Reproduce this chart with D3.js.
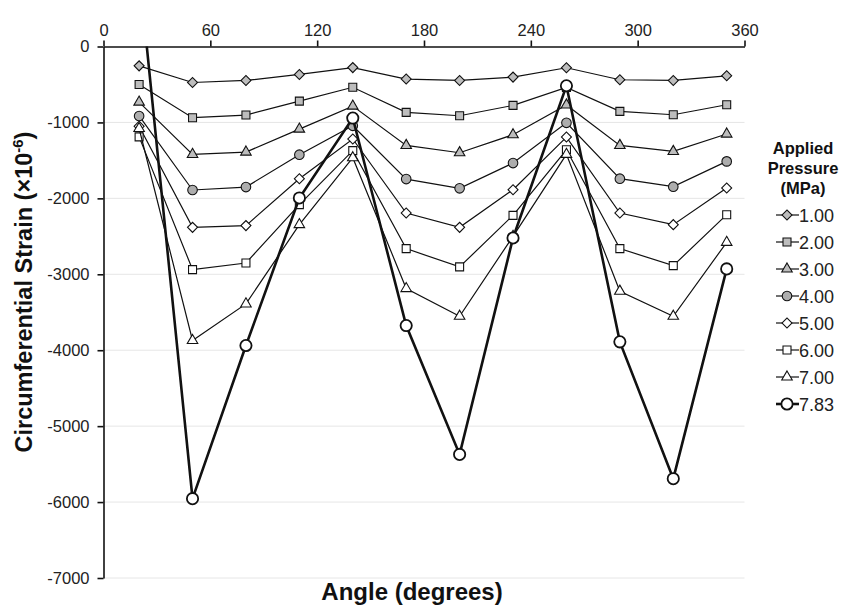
<!DOCTYPE html>
<html>
<head>
<meta charset="utf-8">
<script src="https://cdn.jsdelivr.net/npm/d3@7"></script>
<style>
  html, body { margin: 0; padding: 0; background: #fff; }
  svg { display: block; font-family: "Liberation Sans", Arial, sans-serif; }
</style>
</head>
<body>
<svg id="chart" width="841" height="610"></svg>
<script>
// Measurement angles around the circumference (degrees)
const angles = [20, 50, 80, 110, 140, 170, 200, 230, 260, 290, 320, 350];

// Applied pressure levels (MPa)
const pressures = ["1.00", "2.00", "3.00", "4.00", "5.00", "6.00", "7.00", "7.83"];

// Circumferential strain (×10^-6) at each angle, one array per pressure
const strain100 = [-255, -474, -447, -368, -278, -429, -447, -403, -280, -438, -447, -386];
const strain200 = [-500, -938, -903, -719, -537, -868, -912, -776, -540, -855, -899, -767];
const strain300 = [-732, -1421, -1390, -1088, -785, -1303, -1399, -1162, -770, -1303, -1382, -1153];
const strain400 = [-915, -1890, -1851, -1425, -1045, -1746, -1868, -1535, -1005, -1741, -1846, -1513];
const strain500 = [-1050, -2382, -2359, -1741, -1218, -2193, -2382, -1886, -1193, -2193, -2346, -1864];
const strain600 = [-1190, -2938, -2851, -2083, -1372, -2662, -2903, -2224, -1360, -2662, -2886, -2215];
const strain700 = [-1080, -3872, -3390, -2346, -1465, -3188, -3553, -2500, -1420, -3223, -3553, -2579];
const strain783 = [1000, -5955, -3938, -1995, -942, -3675, -5372, -2522, -517, -3890, -5692, -2929];

// Axis ticks
const xTicks = [0, 60, 120, 180, 240, 300, 360];
const yTicks = [0, -1000, -2000, -3000, -4000, -5000, -6000, -7000];

const seriesValues = [strain100, strain200, strain300, strain400, strain500, strain600, strain700, strain783];
const markerShapes = ["diamond", "square", "triangle", "circle", "diamond", "square", "triangle", "circle"];
const markerFills = ["#bdbdbd", "#bdbdbd", "#bdbdbd", "#adadad", "#fff", "#fff", "#fff", "#fff"];

const series = pressures.map((p, i) => ({
  name: p,
  shape: markerShapes[i],
  fill: markerFills[i],
  heavy: i === pressures.length - 1,
  points: angles.map((a, j) => ({ angle: a, value: seriesValues[i][j] }))
}));

const svg = d3.select("#chart");
const x = d3.scaleLinear().domain([0, 360]).range([103.5, 744.5]);
const y = d3.scaleLinear().domain([-7000, 0]).range([578, 46.5]);

// Light horizontal gridlines
svg.append("g")
  .selectAll("line")
  .data(yTicks.filter(t => t !== 0))
  .join("line")
  .attr("x1", x(0)).attr("x2", x(360))
  .attr("y1", d => y(d)).attr("y2", d => y(d))
  .attr("stroke", "#e6e6e6").attr("stroke-width", 1);

// Top x axis
const xAxis = svg.append("g")
  .attr("transform", `translate(0,${y(0)})`)
  .call(d3.axisTop(x).tickValues(xTicks).tickSize(6).tickSizeOuter(0).tickPadding(5)
    .tickFormat(d => String(d)));
xAxis.select(".domain").attr("stroke", "#111").attr("stroke-width", 1.6);
xAxis.selectAll(".tick line").attr("stroke", "#111").attr("stroke-width", 1.6);
xAxis.selectAll(".tick text").attr("font-size", 16.5).attr("fill", "#222")
  .attr("font-family", '"Liberation Sans", Arial, sans-serif');

// Left y axis (plain hyphen for negative labels)
const yAxis = svg.append("g")
  .attr("transform", `translate(${x(0)},0)`)
  .call(d3.axisLeft(y).tickValues(yTicks).tickSize(6).tickSizeOuter(0).tickPadding(8)
    .tickFormat(d => String(d)));
yAxis.select(".domain").attr("stroke", "#111").attr("stroke-width", 1.6);
yAxis.selectAll(".tick line").attr("stroke", "#111").attr("stroke-width", 1.6);
yAxis.selectAll(".tick text").attr("font-size", 16.5).attr("fill", "#222")
  .attr("font-family", '"Liberation Sans", Arial, sans-serif');

// Plot-area clip (the 7.83 MPa line runs above the 0 line)
svg.append("clipPath").attr("id", "plotClip")
  .append("rect")
  .attr("x", x(0)).attr("y", y(0))
  .attr("width", x(360) - x(0)).attr("height", y(-7000) - y(0));

function markerPath(shape, heavy) {
  if (shape === "diamond") return d3.symbol(d3.symbolSquare, 50)();
  if (shape === "square") return d3.symbol(d3.symbolSquare, 64)();
  if (shape === "triangle") return d3.symbol(d3.symbolTriangle, 48)();
  return d3.symbol(d3.symbolCircle, heavy ? 100 : 72)();
}

const line = d3.line().x(d => x(d.angle)).y(d => y(d.value));

const plot = svg.append("g").attr("clip-path", "url(#plotClip)");

series.forEach(s => {
  const g = plot.append("g");
  g.append("path")
    .datum(s.points)
    .attr("d", line)
    .attr("fill", "none")
    .attr("stroke", "#111")
    .attr("stroke-width", s.heavy ? 2.6 : 1.2);
  g.selectAll("path.mark")
    .data(s.points.filter(d => d.value <= 0))
    .join("path")
    .attr("class", "mark")
    .attr("d", markerPath(s.shape, s.heavy))
    .attr("transform", d => `translate(${x(d.angle)},${y(d.value)})` + (s.shape === "diamond" ? " rotate(45)" : ""))
    .attr("fill", s.fill)
    .attr("stroke", "#111")
    .attr("stroke-width", s.heavy ? 1.8 : 1.1);
});

// Axis titles
svg.append("text")
  .attr("x", 412).attr("y", 600)
  .attr("text-anchor", "middle")
  .attr("font-size", 24).attr("font-weight", "bold").attr("fill", "#111")
  .text("Angle (degrees)");

const yTitle = svg.append("text")
  .attr("transform", "translate(32,292) rotate(-90)")
  .attr("text-anchor", "middle")
  .attr("font-size", 23.5).attr("font-weight", "bold").attr("fill", "#111");
yTitle.append("tspan").text("Circumferential Strain (×10");
yTitle.append("tspan").attr("font-size", 15).attr("dy", -9).text("-6");
yTitle.append("tspan").attr("dy", 9).text(")");

// Legend
const legend = svg.append("g");
["Applied", "Pressure", "(MPa)"].forEach((t, i) => {
  legend.append("text")
    .attr("x", 803).attr("y", 154 + i * 20)
    .attr("text-anchor", "middle")
    .attr("font-size", 16.5).attr("font-weight", "bold").attr("fill", "#111")
    .text(t);
});

const legendY = d3.scalePoint().domain(pressures).range([215, 404]);
series.forEach(s => {
  const gy = legendY(s.name);
  const item = legend.append("g").attr("transform", `translate(0,${gy})`);
  item.append("line")
    .attr("x1", 776).attr("x2", 799).attr("y1", 0).attr("y2", 0)
    .attr("stroke", "#111").attr("stroke-width", s.heavy ? 2.6 : 1.2);
  item.append("path")
    .attr("d", markerPath(s.shape, s.heavy))
    .attr("transform", "translate(787,0)" + (s.shape === "diamond" ? " rotate(45)" : ""))
    .attr("fill", s.fill)
    .attr("stroke", "#111")
    .attr("stroke-width", s.heavy ? 1.8 : 1.1);
  item.append("text")
    .attr("x", 799).attr("y", 6.5)
    .attr("font-size", 18).attr("fill", "#222")
    .text(s.name);
});
</script>
</body>
</html>
